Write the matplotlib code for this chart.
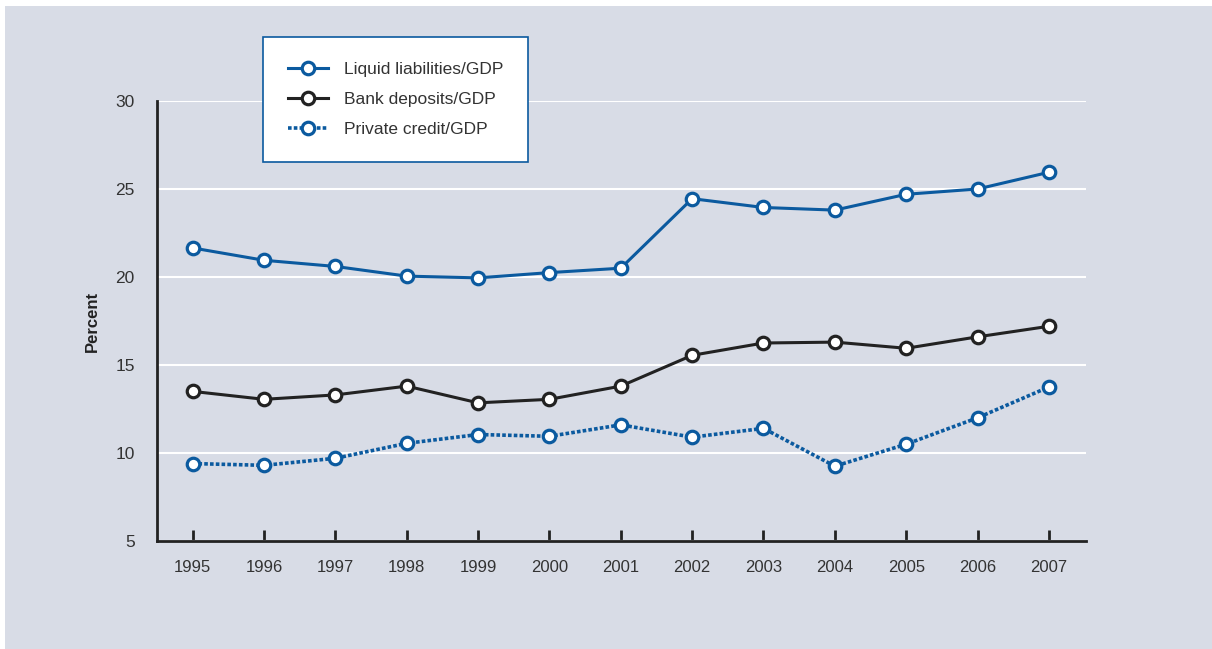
import matplotlib
matplotlib.use('Agg')
import matplotlib.pyplot as plt
from matplotlib.patches import Rectangle

plt.rcParams['font.family'] = ['Liberation Sans Narrow', 'Liberation Sans', 'DejaVu Sans']

# data
years = [1995, 1996, 1997, 1998, 1999, 2000, 2001, 2002, 2003, 2004, 2005, 2006, 2007]
liquid = [21.65, 20.95, 20.6, 20.05, 19.95, 20.25, 20.5, 24.45, 23.95, 23.8, 24.7, 25.0, 25.95]
deposits = [13.5, 13.05, 13.3, 13.8, 12.85, 13.05, 13.8, 15.55, 16.25, 16.3, 15.95, 16.6, 17.2]
credit = [9.4, 9.3, 9.7, 10.55, 11.05, 10.95, 11.6, 10.9, 11.4, 9.25, 10.5, 12.0, 13.75]
labels = ['Liquid liabilities/GDP', 'Bank deposits/GDP', 'Private credit/GDP']

bg = '#d8dce6'
blue = '#0b5a9f'
black = '#222222'

fig = plt.figure(figsize=(12.12, 6.49), dpi=100)
fig.patch.set_facecolor('white')
# gray panel with thin white border on top/left
fig.add_artist(Rectangle((5/1212, 0), 1, 1 - 6/649, transform=fig.transFigure,
                         facecolor=bg, edgecolor='none', zorder=-10))

ax = fig.add_axes([157/1212, 1 - 541/649, 929/1212, 440/649])
ax.set_facecolor(bg)

mk = dict(marker='o', markersize=9, markerfacecolor='white', markeredgewidth=2.3)
ax.plot(years, liquid, color=blue, lw=2.2, markeredgecolor=blue, label=labels[0], zorder=3, **mk)
ax.plot(years, deposits, color=black, lw=2.2, markeredgecolor=black, label=labels[1], zorder=3, **mk)
ax.plot(years, credit, color=blue, lw=2.6, linestyle=(0, (1, 0.6)), markeredgecolor=blue,
        label=labels[2], zorder=3, **mk)

ax.set_xlim(1994.5, 2007.52)
ax.set_ylim(5, 30)
ax.set_xticks(years)
ax.set_yticks([5, 10, 15, 20, 25, 30])
ax.yaxis.grid(True, color='white', lw=1.5)
ax.set_axisbelow(True)

for s in ['top', 'right']:
    ax.spines[s].set_visible(False)
ax.spines['left'].set_linewidth(2)
ax.spines['bottom'].set_linewidth(2)
ax.spines['left'].set_color(black)
ax.spines['bottom'].set_color(black)

ax.tick_params(axis='x', direction='in', length=8, width=2, color=black, pad=14, labelsize=12)
ax.tick_params(axis='y', length=0, pad=16, labelsize=12.5)
for t in ax.get_xticklabels() + ax.get_yticklabels():
    t.set_color('#333333')

ax.set_ylabel('Percent', fontsize=12, fontweight='bold', labelpad=11, color='#222222')

# legend box in the upper left, above the plot area
leg = ax.legend(loc='upper left', bbox_to_anchor=(263/1212, 1 - 37/649),
                bbox_transform=fig.transFigure, fontsize=12.5, frameon=True, fancybox=False,
                handlelength=2.3, handletextpad=0.9, borderpad=1.45, labelspacing=0.85,
                borderaxespad=0)
leg.get_frame().set_edgecolor(blue)
leg.get_frame().set_linewidth(1.2)
leg.get_frame().set_facecolor('white')
leg.get_frame().set_alpha(1)
leg.set_zorder(5)
for t in leg.get_texts():
    t.set_color('#333333')

fig.savefig('out.png', dpi=100, facecolor=fig.get_facecolor())
